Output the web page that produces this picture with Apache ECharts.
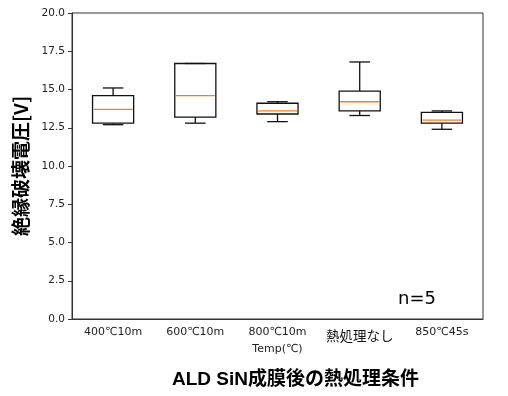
<!DOCTYPE html>
<html>
<head>
<meta charset="utf-8">
<script src="https://cdn.jsdelivr.net/npm/echarts@6/dist/echarts.min.js"></script>
<style>
html,body{margin:0;padding:0;background:#fff;}
#main{width:508px;height:396px;}
</style>
</head>
<body>
<div id="main"></div>
<script>
// カテゴリと箱ひげ図の値
var categories = ['400℃10m', '600℃10m', '800℃10m', '熱処理なし', '850℃45s'];
var whiskerLow = [12.7, 12.8, 12.9, 13.3, 12.4];
var q1 = [12.8, 13.2, 13.4, 13.6, 12.8];
var median = [13.7, 14.6, 13.6, 14.2, 13.0];
var q3 = [14.6, 16.7, 14.1, 14.9, 13.5];
var whiskerHigh = [15.1, 16.7, 14.2, 16.8, 13.6];
var yTicks = [0, 2.5, 5, 7.5, 10, 12.5, 15, 17.5, 20];

function loadChart(){
	var chart = echarts.init(document.getElementById('main'));
	var boxData = categories.map(function(c, i){
		return [i, whiskerLow[i], q1[i], median[i], q3[i], whiskerHigh[i]];
	});

	// matplotlib風の箱ひげを描画
	function renderBox(params, api){
		var i = api.value(0);
		var band = api.size([1, 0])[0];
		var bw = band * 0.5, cw = band * 0.25;
		var pLow = api.coord([i, api.value(1)]);
		var pQ1 = api.coord([i, api.value(2)]);
		var pMed = api.coord([i, api.value(3)]);
		var pQ3 = api.coord([i, api.value(4)]);
		var pHigh = api.coord([i, api.value(5)]);
		var cx = pMed[0];
		var line = {stroke: '#111', lineWidth: 1.3};
		return {
			type: 'group',
			children: [
				{type: 'line', shape: {x1: cx, y1: pQ1[1], x2: cx, y2: pLow[1]}, style: line},
				{type: 'line', shape: {x1: cx, y1: pQ3[1], x2: cx, y2: pHigh[1]}, style: line},
				{type: 'line', shape: {x1: cx - cw / 2, y1: pLow[1], x2: cx + cw / 2, y2: pLow[1]}, style: line},
				{type: 'line', shape: {x1: cx - cw / 2, y1: pHigh[1], x2: cx + cw / 2, y2: pHigh[1]}, style: line},
				{type: 'rect', shape: {x: cx - bw / 2, y: pQ3[1], width: bw, height: pQ1[1] - pQ3[1]},
					style: {fill: 'none', stroke: '#111', lineWidth: 1.3}},
				{type: 'line', shape: {x1: cx - bw / 2 + 1, y1: pMed[1], x2: cx + bw / 2 - 1, y2: pMed[1]},
					style: {stroke: '#ff7f0e', lineWidth: 1.3}}
			]
		};
	}

	var option = {
		animation: false,
		grid: {
			left: 72, right: 25, top: 13, bottom: 77,
			show: true, borderColor: '#333', borderWidth: 1
		},
		xAxis: {
			type: 'category',
			data: categories,
			boundaryGap: true,
			axisLine: {lineStyle: {color: '#333'}},
			axisTick: {alignWithLabel: true, length: 4, lineStyle: {color: '#333'}},
			axisLabel: {
				interval: 0,
				color: '#222', fontFamily: 'DejaVu Sans', fontSize: 11, margin: 8,
				formatter: function(v){ return v === '熱処理なし' ? '{cjk|' + v + '}' : v; },
				rich: {cjk: {fontFamily: 'Noto Sans CJK JP', fontSize: 13.5, color: '#111', padding: [2, 0, 0, 0]}}
			},
			name: 'Temp(℃)',
			nameLocation: 'middle',
			nameGap: 25,
			nameMoveOverlap: false,
			nameTextStyle: {color: '#222', fontFamily: 'DejaVu Sans', fontSize: 11}
		},
		yAxis: {
			type: 'value',
			min: 0, max: 20, interval: 2.5,
			splitLine: {show: false},
			axisLine: {show: true, lineStyle: {color: '#333'}},
			axisTick: {show: true, length: 4, lineStyle: {color: '#333'}},
			axisLabel: {
				color: '#222', fontFamily: 'DejaVu Sans', fontSize: 10.5, margin: 7,
				formatter: function(v){ return yTicks.indexOf(v) >= 0 ? v.toFixed(1) : ''; }
			},
			name: '絶縁破壊電圧[V]',
			nameLocation: 'middle',
			nameRotate: 90,
			nameGap: 42,
			nameMoveOverlap: false,
			nameTextStyle: {color: '#000', fontFamily: 'Noto Sans CJK JP', fontWeight: 'bold', fontSize: 19}
		},
		graphic: [
			{type: 'text', left: 172, top: 370,
				style: {text: 'ALD SiN成膜後の熱処理条件', fill: '#000',
					font: 'bold 19px "Liberation Sans", "Noto Sans CJK JP"'}},
			{type: 'text', left: 398, top: 290,
				style: {text: 'n=5', fill: '#000', font: '18px "DejaVu Sans"'}}
		],
		series: [
			{
				type: 'custom',
				renderItem: renderBox,
				encode: {x: 0, y: [1, 2, 3, 4, 5]},
				data: boxData
			}
		]
	};
	chart.setOption(option);
}
loadChart();
</script>
</body>
</html>
